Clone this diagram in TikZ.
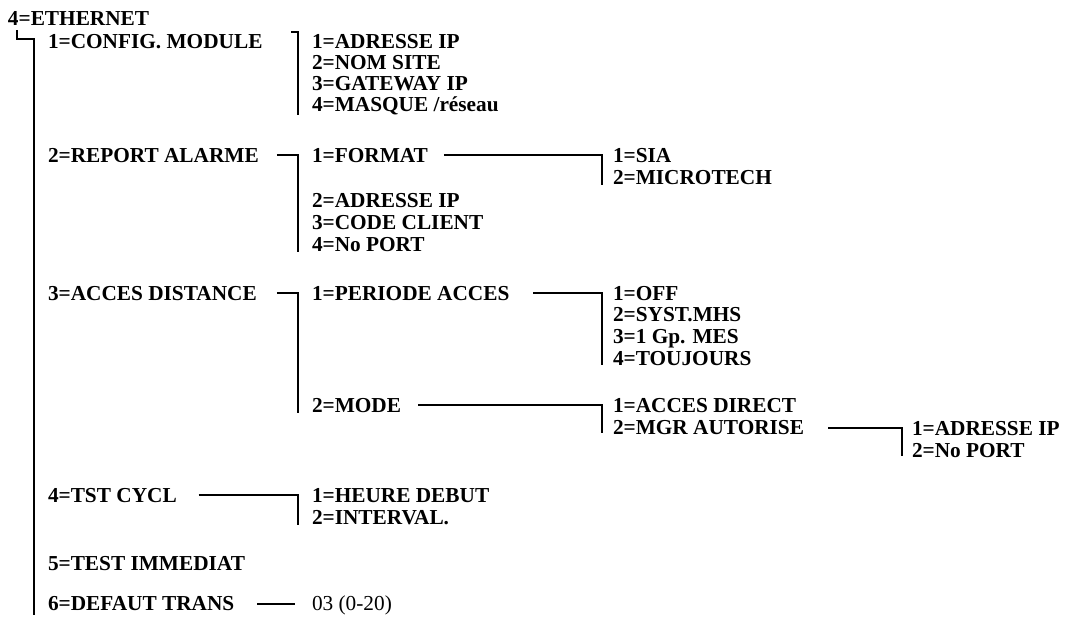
\documentclass[tikz,border=0pt]{standalone}
\usepackage{fontspec}
\setmainfont{Liberation Serif}
\usetikzlibrary{calc}
\begin{document}
\begin{tikzpicture}[x=1pt,y=-1pt,
  item/.style={anchor=west,inner sep=0pt,outer sep=0pt,text height=14pt,text depth=0pt,font=\fontsize{21.3}{24}\selectfont\bfseries},
  plain/.style={item,font=\fontsize{21.3}{24}\selectfont},
  conn/.style={line width=2.4pt}]
\useasboundingbox[fill=white] (0,0) rectangle (1065,619);
% root
\node[item] (eth) at (8,18) {4=ETHERNET};
% level 1
\node[item] (config) at (48,41) {1=CONFIG. MODULE};
\node[item] (report) at (48,155) {2=REPORT ALARME};
\node[item] (acces) at (48,293) {3=ACCES DISTANCE};
\node[item] (tst) at (48,495) {4=TST CYCL};
\node[item] (test) at (48,563) {5=TEST IMMEDIAT};
\node[item] (defaut) at (48,603) {6=DEFAUT TRANS};
% config children
\node[item] (c1) at (312,41) {1=ADRESSE IP};
\node[item] (c2) at (312,62) {2=NOM SITE};
\node[item] (c3) at (312,83) {3=GATEWAY IP};
\node[item] (c4) at (312,104) {4=MASQUE /réseau};
% report children
\node[item] (fmt) at (312,155) {1=FORMAT};
\node[item] (r2) at (312,200) {2=ADRESSE IP};
\node[item] (r3) at (312,222) {3=CODE CLIENT};
\node[item] (r4) at (312,244) {4=No PORT};
\node[item] (f1) at (613,155) {1=SIA};
\node[item] (f2) at (613,177) {2=MICROTECH};
% acces children
\node[item] (per) at (312,293) {1=PERIODE ACCES};
\node[item] (mode) at (312,405) {2=MODE};
\node[item] (p1) at (613,293) {1=OFF};
\node[item] (p2) at (613,314) {2=SYST.MHS};
\node[item] (p3) at (613,336) {3=1 Gp. MES};
\node[item] (p4) at (613,358) {4=TOUJOURS};
\node[item] (m1) at (613,405) {1=ACCES DIRECT};
\node[item] (mgr) at (613,427) {2=MGR AUTORISE};
\node[item] (g1) at (912,428) {1=ADRESSE IP};
\node[item] (g2) at (912,450) {2=No PORT};
% tst children
\node[item] (t1) at (312,495) {1=HEURE DEBUT};
\node[item] (t2) at (312,517) {2=INTERVAL.};
% defaut value
\node[plain] (dval) at (312,603) {03 (0-20)};
% connectors
\draw[conn] ($(eth.west)+(9,12)$) |- ($(config.west)+(-14,-2)$) -- ($(defaut.west)+(-14,12)$);
\draw[conn] ($(config.east)+(29,-9)$) -| ($(c4.west)+(-14,11)$);
\draw[conn] ($(report.east)+(18,0)$) -| ($(r4.west)+(-14,8)$);
\draw[conn] ($(fmt.east)+(16,0)$) -| ($(f2.west)+(-11,8)$);
\draw[conn] ($(acces.east)+(20,0)$) -| ($(mode.west)+(-14,8)$);
\draw[conn] ($(per.east)+(24,0)$) -| ($(p4.west)+(-11,7)$);
\draw[conn] ($(mode.east)+(17,0)$) -| ($(mgr.west)+(-11,6)$);
\draw[conn] ($(mgr.east)+(24,1)$) -| ($(g2.west)+(-10,6)$);
\draw[conn] ($(tst.east)+(22,0)$) -| ($(t2.west)+(-14,8)$);
\draw[conn] ($(defaut.east)+(23,1)$) -- ($(dval.west)+(-17,1)$);
\end{tikzpicture}
\end{document}
